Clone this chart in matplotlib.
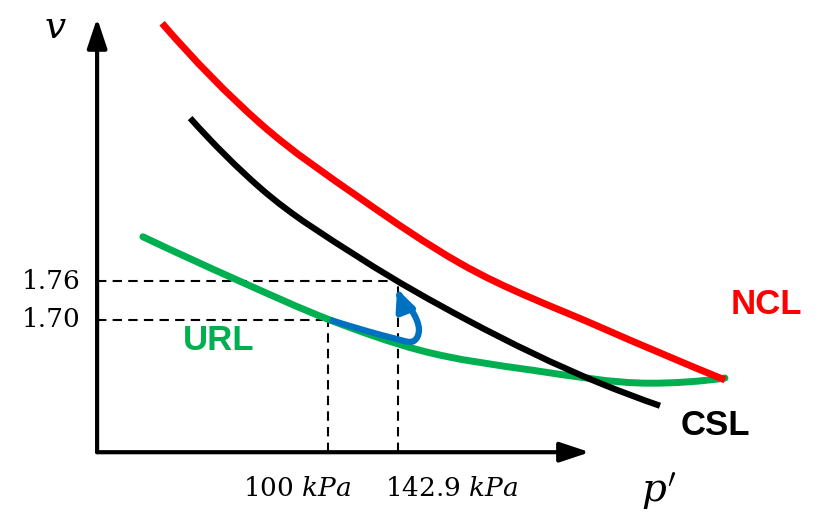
import matplotlib
matplotlib.use("Agg")
import matplotlib.pyplot as plt
import numpy as np
from matplotlib.path import Path
from matplotlib.patches import PathPatch

# ---- data (p' in kPa, v specific volume) read from the schematic ----
ncl_p = [42.9, 70.7, 117.7, 196.0, 400.4, 757.3]
ncl_v = [2.160, 2.005, 1.889, 1.788, 1.689, 1.607]

csl_p = [49.5, 70.7, 117.7, 203.2, 400.4, 543.6]
csl_v = [2.013, 1.905, 1.796, 1.700, 1.602, 1.567]

url_p = [38.9, 62.9, 101.0, 159.9, 284.4, 516.7, 757.3]
url_v = [1.829, 1.762, 1.700, 1.653, 1.622, 1.602, 1.610]

path_p = [101.0, 121.8, 139.3, 151.9, 157.2, 159.0, 157.2, 151.9, 144.4, 142.2]
path_v = [1.700, 1.683, 1.672, 1.666, 1.672, 1.685, 1.700, 1.719, 1.736, 1.748]

p_ticks = [100, 142.9]
p_tick_labels = ["100 $kPa$", "142.9 $kPa$"]
v_ticks = [1.70, 1.76]
v_tick_labels = ["1.70", "1.76"]

origin_p, origin_v = 30.8, 1.495
p_axis_end, v_axis_end = 380.0, 2.168

RED = "#FF0000"
GREEN = "#00B050"
BLUE = "#0070C0"

plt.rcParams["mathtext.fontset"] = "dejavuserif"


def hermite_path(p, v):
    """Smooth curve through the read points (x = log p), as cubic Bezier segments."""
    x = np.log10(np.asarray(p, float))
    y = np.asarray(v, float)
    h = np.diff(x)
    d = np.diff(y) / h
    m = np.empty_like(y)
    m[1:-1] = (h[1:] * d[:-1] + h[:-1] * d[1:]) / (h[:-1] + h[1:])
    m[0] = 2 * d[0] - m[1]
    m[-1] = 2 * d[-1] - m[-2]
    verts = [(x[0], y[0])]
    codes = [Path.MOVETO]
    for i in range(len(x) - 1):
        verts += [(x[i] + h[i] / 3, y[i] + m[i] * h[i] / 3),
                  (x[i + 1] - h[i] / 3, y[i + 1] - m[i + 1] * h[i] / 3),
                  (x[i + 1], y[i + 1])]
        codes += [Path.CURVE4] * 3
    verts = np.array(verts)
    verts[:, 0] = 10 ** verts[:, 0]
    return Path(verts, codes)


def catmull_path(p, v):
    """Catmull-Rom curve through the read points (for the looping stress path)."""
    pts = np.column_stack([np.log10(p), v])
    ext = np.vstack([2 * pts[0] - pts[1], pts, 2 * pts[-1] - pts[-2]])
    verts = [pts[0]]
    codes = [Path.MOVETO]
    for i in range(1, len(ext) - 2):
        p0, p1, p2, p3 = ext[i - 1], ext[i], ext[i + 1], ext[i + 2]
        verts += [p1 + (p2 - p0) / 6.0, p2 - (p3 - p1) / 6.0, p2]
        codes += [Path.CURVE4] * 3
    verts = np.array(verts)
    verts[:, 0] = 10 ** verts[:, 0]
    return Path(verts, codes)


fig = plt.figure(figsize=(8.28, 5.12), dpi=100)
ax = fig.add_axes([0, 0, 1, 1])
ax.set_xscale("log")
ax.set_xlim(18.77, 1280.6)
ax.set_ylim(1.4023, 2.1961)
ax.axis("off")

# axes with arrows
arrow_kw = dict(arrowstyle="-|>,head_length=1.8,head_width=0.6", lw=3.0,
                color="black", shrinkA=0, shrinkB=0, mutation_scale=10)
ax.annotate("", xy=(p_axis_end, origin_v), xytext=(origin_p, origin_v),
            arrowprops=arrow_kw)
ax.annotate("", xy=(origin_p, v_axis_end), xytext=(origin_p, origin_v),
            arrowprops=arrow_kw)

# dashed guide lines
for pt, vt in zip(p_ticks, v_ticks):
    ax.plot([origin_p, pt], [vt, vt], color="black", lw=1.5, dashes=(4.5, 3))
    ax.plot([pt, pt], [origin_v, vt], color="black", lw=1.5, dashes=(4.5, 3))

# curves
ax.add_patch(PathPatch(hermite_path(url_p, url_v), fill=False, edgecolor=GREEN,
                       lw=5, capstyle="round", zorder=3))
ax.add_patch(PathPatch(hermite_path(csl_p, csl_v), fill=False, edgecolor="black",
                       lw=4.5, capstyle="butt", zorder=4))
ax.add_patch(PathPatch(hermite_path(ncl_p, ncl_v), fill=False, edgecolor=RED,
                       lw=5, capstyle="butt", zorder=5))

# stress path
ax.add_patch(PathPatch(catmull_path(path_p[:-1], path_v[:-1]), fill=False,
                       edgecolor=BLUE, lw=4.5, capstyle="butt", joinstyle="round",
                       zorder=6))
ax.annotate("", xy=(path_p[-1], path_v[-1]), xytext=(path_p[-2], path_v[-2]),
            arrowprops=dict(arrowstyle="-|>,head_length=1.2,head_width=0.55",
                            color=BLUE, lw=4.5, shrinkA=0, shrinkB=0,
                            mutation_scale=10), zorder=6)

# tick labels
for vt, lab in zip(v_ticks, v_tick_labels):
    ax.annotate(lab, xy=(origin_p, vt), xytext=(-12, 0), textcoords="offset points",
                ha="right", va="center", fontsize=19, family="DejaVu Serif")
offsets = [(-22, -26), (39, -26)]
for pt, lab, off in zip(p_ticks, p_tick_labels, offsets):
    ax.annotate(lab, xy=(pt, origin_v), xytext=off, textcoords="offset points",
                ha="center", va="center", fontsize=19, family="DejaVu Serif")

# axis titles
ax.annotate("$v$", xy=(origin_p, v_axis_end), xytext=(-30, -14), textcoords="offset points",
            ha="center", va="baseline", fontsize=27)
ax.annotate("$p'$", xy=(p_axis_end, origin_v), xytext=(50, -28), textcoords="offset points",
            ha="center", va="center", fontsize=28)

# line labels
ax.annotate("NCL", xy=(ncl_p[-1], ncl_v[-1]), xytext=(30, 54), textcoords="offset points",
            ha="center", va="center", fontsize=25, fontweight="bold",
            family="Liberation Sans", color=RED)
ax.annotate("CSL", xy=(csl_p[-1], csl_v[-1]), xytext=(40, -14), textcoords="offset points",
            ha="center", va="center", fontsize=25, fontweight="bold",
            family="Liberation Sans", color="black")
ax.annotate("URL", xy=(path_p[0], path_v[0]), xytext=(-80, -15), textcoords="offset points",
            ha="center", va="center", fontsize=25, fontweight="bold",
            family="Liberation Sans", color=GREEN)

fig.savefig("out.png", dpi=100)
